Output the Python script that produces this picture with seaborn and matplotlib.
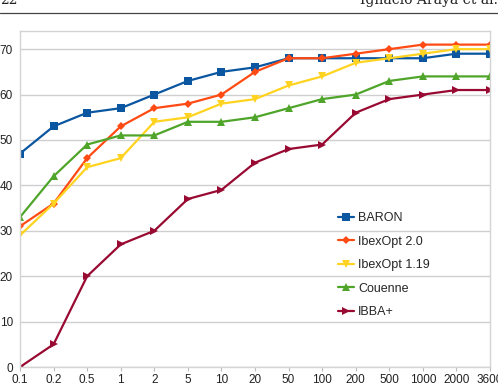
import matplotlib
matplotlib.use("Agg")
import matplotlib.pyplot as plt
from matplotlib.lines import Line2D
import pandas as pd
import seaborn as sns

# time limits (s) on the x axis
times = ["0.1", "0.2", "0.5", "1", "2", "5", "10", "20", "50", "100",
         "200", "500", "1000", "2000", "3600"]

baron = [47, 53, 56, 57, 60, 63, 65, 66, 68, 68, 68, 68, 68, 69, 69]
ibex20 = [31, 36, 46, 53, 57, 58, 60, 65, 68, 68, 69, 70, 71, 71, 71]
ibex119 = [29, 36, 44, 46, 54, 55, 58, 59, 62, 64, 67, 68, 69, 70, 70]
couenne = [33, 42, 49, 51, 51, 54, 54, 55, 57, 59, 60, 63, 64, 64, 64]
ibba = [0, 5, 20, 27, 30, 37, 39, 45, 48, 49, 56, 59, 60, 61, 61]

solvers = ["BARON", "IbexOpt 2.0", "IbexOpt 1.19", "Couenne", "IBBA+"]
series = [baron, ibex20, ibex119, couenne, ibba]
colors = ["#0a56a0", "#ff4a14", "#ffd320", "#4fa52a", "#990a32"]
marks = ["s", "D", "v", "^", ">"]

rows = []
for name, vals in zip(solvers, series):
    for i, v in enumerate(vals):
        rows.append({"pos": i, "solved": v, "solver": name})
df = pd.DataFrame(rows)

sns.set_style("white")
plt.rcParams["font.family"] = ["Liberation Sans", "DejaVu Sans"]

fig = plt.figure(figsize=(4.98, 3.86), dpi=100)
ax = fig.add_axes([20 / 498, (386 - 367) / 386, 470 / 498, 336 / 386])

sns.lineplot(data=df, x="pos", y="solved", hue="solver", style="solver",
             hue_order=solvers, style_order=solvers,
             palette=dict(zip(solvers, colors)),
             markers=dict(zip(solvers, marks)), dashes=False,
             linewidth=1.6, markersize=6, markeredgewidth=0, ax=ax)

# diamonds look bigger than the other markers
for ln in ax.lines:
    if ln.get_marker() == "D":
        ln.set_markersize(4.5)

ax.set_xlim(0, len(times) - 1)
ax.set_ylim(0, 74)
ax.set_xticks(range(len(times)))
ax.set_xticklabels(times)
ax.set_yticks(range(0, 80, 10))
ax.set_xlabel("")
ax.set_ylabel("")
ax.yaxis.grid(True, color="#cfcfcf", linewidth=1)
ax.set_axisbelow(True)
ax.tick_params(axis="x", length=3, width=0.8, color="#bbbbbb", pad=2,
               labelsize=8.5, labelcolor="#222222", bottom=True)
ax.tick_params(axis="y", length=0, pad=5, labelsize=8.5, labelcolor="#222222")
for s in ax.spines.values():
    s.set_color("#d4d4d4")
    s.set_linewidth(1)

handles, labels = ax.get_legend_handles_labels()
for h in handles:
    if h.get_marker() == "D":
        h.set_markersize(4.5)
ax.legend(handles, labels, frameon=False, loc="upper left",
          bbox_to_anchor=((333 - 20) / 470, 1 - (207 - 31) / 336),
          bbox_transform=ax.transAxes, fontsize=9, handlelength=1.3,
          handletextpad=0.3, labelspacing=0.92, borderaxespad=0)

# page header of the paper
fig.text(0.0, 1 - 4 / 386, "22", family="DejaVu Serif", fontsize=10,
         ha="left", va="baseline", color="#222222")
fig.text(1.0, 1 - 4 / 386, "Ignacio Araya et al.", family="DejaVu Serif",
         fontsize=10, ha="right", va="baseline", color="#222222")
fig.add_artist(Line2D([0, 1], [1 - 12.5 / 386] * 2, transform=fig.transFigure,
                      color="#444444", linewidth=0.9))

fig.savefig("out.png", dpi=100)
